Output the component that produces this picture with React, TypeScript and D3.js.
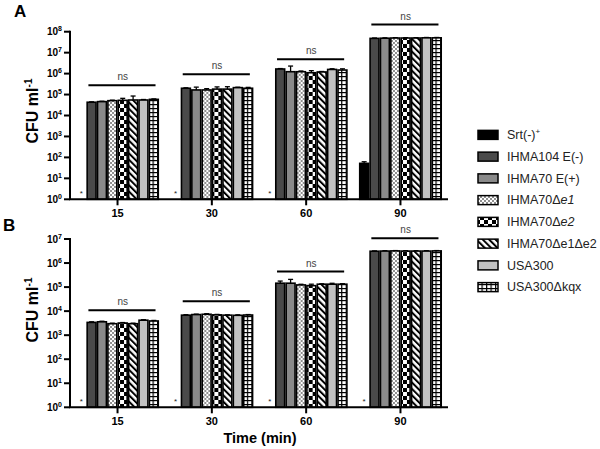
import React from 'react';
import * as d3 from 'd3';

const times = ['15', '30', '60', '90'];
const strains = ['Srt(-)+', 'IHMA104 E(-)', 'IHMA70 E(+)', 'IHMA70Δe1', 'IHMA70Δe2', 'IHMA70Δe1Δe2', 'USA300', 'USA300Δkqx'];

// Panel A (CFU/ml), one row per time point, one value per strain; 0 = none detected (*)
const panelAMeans = [
  [0, 4.3e4, 4.6e4, 5.1e4, 5.3e4, 5.5e4, 5.5e4, 5.9e4],
  [0, 2.0e5, 1.66e5, 1.66e5, 1.82e5, 1.82e5, 2.14e5, 2.0e5],
  [0, 1.66e6, 1.23e6, 1.23e6, 1.1e6, 1.2e6, 1.58e6, 1.48e6],
  [52, 4.8e7, 4.9e7, 5.0e7, 5.0e7, 5.0e7, 5.1e7, 5.1e7],
];
const panelAErrors = [
  [0, 2e3, 2e3, 3e3, 1.3e4, 3e4, 3e3, 3e3],
  [0, 1e4, 6e4, 2.5e4, 5e4, 5.5e4, 1e4, 2e4],
  [0, 8e4, 1.06e6, 1e5, 2.8e5, 6e4, 1.2e5, 2.1e5],
  [10, 2e6, 2e6, 2e6, 2e6, 2e6, 2e6, 2e6],
];
const panelANsLevel = [2.8e5, 9.3e5, 4.8e6, 2.2e8];

// Panel B
const panelBMeans = [
  [0, 3.4e3, 3.6e3, 3.0e3, 3.2e3, 3.0e3, 4.2e3, 3.9e3],
  [0, 6.8e3, 7.2e3, 7.4e3, 7.0e3, 6.8e3, 6.7e3, 6.9e3],
  [0, 1.45e5, 1.45e5, 1.23e5, 1.15e5, 1.32e5, 1.32e5, 1.32e5],
  [0, 3.1e6, 3.15e6, 3.2e6, 3.15e6, 3.15e6, 3.15e6, 3.2e6],
];
const panelBErrors = [
  [0, 2e2, 2e2, 1.5e2, 1.5e2, 1.5e2, 2e2, 2e2],
  [0, 3e2, 3e2, 4e2, 3e2, 2e2, 3e2, 3e2],
  [0, 3.3e4, 6.4e4, 8e3, 1.7e4, 5e3, 1.2e4, 6e3],
  [0, 1e5, 1e5, 1e5, 1e5, 1e5, 1e5, 1e5],
];
const panelBNsLevel = [1.1e4, 2.6e4, 4.4e5, 1.07e7];

const fills = ['#000', '#4a4a4a', '#8a8a8a', 'url(#pDots)', 'url(#pChecker)', 'url(#pStripes)', '#c2c2c2', 'url(#pGrid)'];
const FONT = '"Liberation Sans", Arial, Helvetica, sans-serif';

function Panel({ means, errors, nsLevel, maxExp, top, bottom, letter, letterX, letterY, labelY }) {
  const x0 = d3.scaleBand().domain(times).range([70, 448]).paddingInner(0.12).paddingOuter(0.064);
  const x1 = d3.scaleBand().domain(strains).range([0, x0.bandwidth()]);
  const y = d3.scaleLog().domain([1, Math.pow(10, maxExp)]).range([bottom, top]);
  const exps = d3.range(0, maxExp + 1);
  const bw = x1.bandwidth();
  return (
    <g>
      <text x={letterX} y={letterY} fontFamily={FONT} fontWeight="bold" fontSize={17}>{letter}</text>
      <text transform={`translate(38,${labelY}) rotate(-90)`} textAnchor="middle" fontFamily={FONT} fontWeight="bold" fontSize={16}>
        CFU ml<tspan fontSize={10} dy={-6}>-1</tspan>
      </text>
      {times.map((t, gi) => (
        <g key={t} transform={`translate(${x0(t)},0)`}>
          {strains.map((s, si) => {
            const v = means[gi][si];
            const cx = x1(s) + bw / 2;
            if (v <= 1) {
              return (
                <text key={s} x={cx} y={bottom - 3} textAnchor="middle" fontFamily={FONT} fontSize={8} fill="#222">*</text>
              );
            }
            const e = errors[gi][si];
            const yt = y(v);
            const ye = y(v + e);
            return (
              <g key={s}>
                <line x1={cx} x2={cx} y1={yt} y2={ye} stroke="#000" strokeWidth={1.3} />
                <line x1={cx - 2.5} x2={cx + 2.5} y1={ye} y2={ye} stroke="#000" strokeWidth={1.3} />
                <rect x={x1(s) + 0.75} y={yt} width={bw - 1.5} height={bottom - yt} fill={fills[si]} stroke="#000" strokeWidth={1.6} />
              </g>
            );
          })}
          <line x1={x1(strains[1]) + 2} x2={x0.bandwidth() - 3.5} y1={y(nsLevel[gi])} y2={y(nsLevel[gi])} stroke="#000" strokeWidth={2} />
          <text x={(x1(strains[1]) + x0.bandwidth()) / 2} y={y(nsLevel[gi]) - 5} textAnchor="middle" fontFamily={FONT} fontSize={10} fill="#444">ns</text>
          <line x1={x0.bandwidth() / 2} x2={x0.bandwidth() / 2} y1={bottom} y2={bottom + 6} stroke="#000" strokeWidth={2} />
          <text x={x0.bandwidth() / 2} y={bottom + 18} textAnchor="middle" fontFamily={FONT} fontWeight="bold" fontSize={11}>{t}</text>
        </g>
      ))}
      {exps.map((k) => (
        <g key={k}>
          <line x1={64} x2={70} y1={y(Math.pow(10, k))} y2={y(Math.pow(10, k))} stroke="#000" strokeWidth={2} />
          <text x={62} y={y(Math.pow(10, k)) + 3.5} textAnchor="end" fontFamily={FONT} fontWeight="bold" fontSize={10}>
            10<tspan fontSize={7} dy={-4}>{k}</tspan>
          </text>
        </g>
      ))}
      <line x1={70} x2={70} y1={top - 1} y2={bottom} stroke="#000" strokeWidth={2} />
      <line x1={69} x2={448} y1={bottom} y2={bottom} stroke="#000" strokeWidth={2} />
    </g>
  );
}

function LegendLabel({ name }) {
  if (name === 'Srt(-)+') return <>Srt(-)<tspan fontSize={8} dy={-5}>+</tspan></>;
  if (name === 'IHMA70Δe1') return <>IHMA70Δ<tspan fontStyle="italic">e1</tspan></>;
  if (name === 'IHMA70Δe2') return <>IHMA70Δ<tspan fontStyle="italic">e2</tspan></>;
  return <>{name}</>;
}

export default function App() {
  const legendY = d3.scaleBand().domain(strains).range([124, 298]);
  return (
    <svg width={600} height={449} style={{ position: 'absolute', left: 0, top: 0, background: '#fff' }}>
      <defs>
        <pattern id="pDots" patternUnits="userSpaceOnUse" width={4} height={4}>
          <rect width={4} height={4} fill="#fff" />
          <circle cx={1} cy={1} r={0.8} fill="#000" />
          <circle cx={3} cy={3} r={0.8} fill="#000" />
        </pattern>
        <pattern id="pChecker" patternUnits="userSpaceOnUse" width={8} height={8}>
          <rect width={8} height={8} fill="#fff" />
          <rect x={0} y={0} width={4} height={4} fill="#000" />
          <rect x={4} y={4} width={4} height={4} fill="#000" />
        </pattern>
        <pattern id="pStripes" patternUnits="userSpaceOnUse" width={4.5} height={6} patternTransform="rotate(-45)">
          <rect width={4.5} height={6} fill="#fff" />
          <rect x={0} y={0} width={2} height={6} fill="#000" />
        </pattern>
        <pattern id="pGrid" patternUnits="userSpaceOnUse" width={4.5} height={4}>
          <rect width={4.5} height={4} fill="#fff" />
          <rect x={0} y={0} width={1.2} height={4} fill="#000" />
          <rect x={0} y={0} width={4.5} height={1.2} fill="#000" />
        </pattern>
      </defs>
      <Panel means={panelAMeans} errors={panelAErrors} nsLevel={panelANsLevel} maxExp={8} top={31.7} bottom={199.3}
        letter="A" letterX={14} letterY={17} labelY={111} />
      <Panel means={panelBMeans} errors={panelBErrors} nsLevel={panelBNsLevel} maxExp={7} top={239} bottom={407.3}
        letter="B" letterX={3} letterY={231} labelY={310} />
      <text x={260} y={443} textAnchor="middle" fontFamily={FONT} fontWeight="bold" fontSize={14.5}>Time (min)</text>
      {strains.map((s, i) => {
        const cy = legendY(s) + legendY.bandwidth() / 2;
        return (
          <g key={s}>
            <rect x={478} y={cy - 4.5} width={20} height={9} fill={fills[i]} stroke="#000" strokeWidth={1.5} />
            <text x={507} y={cy + 4.3} fontFamily={FONT} fontSize={12.5} fill="#222"><LegendLabel name={s} /></text>
          </g>
        );
      })}
    </svg>
  );
}
